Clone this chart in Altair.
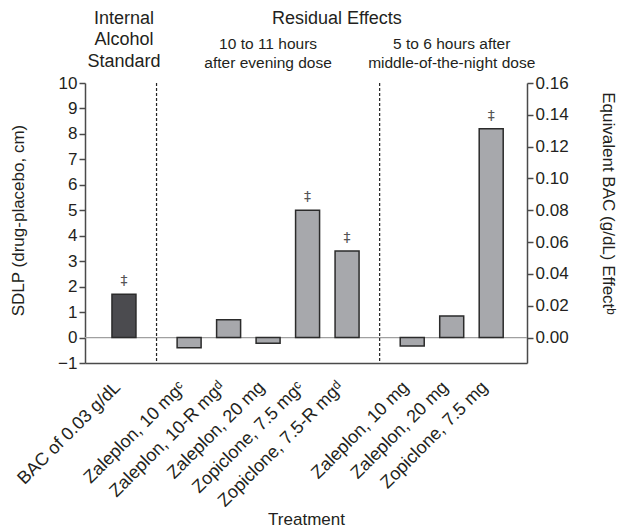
import json
import altair as alt
import pandas as pd

# ---------------- data ----------------
treatments = [
    "BAC of 0.03 g/dL",
    "Zaleplon, 10 mgᶜ",
    "Zaleplon, 10-R mgᵈ",
    "Zaleplon, 20 mg",
    "Zopiclone, 7.5 mgᶜ",
    "Zopiclone, 7.5-R mgᵈ",
    "Zaleplon, 10 mg",
    "Zaleplon, 20 mg",
    "Zopiclone, 7.5 mg",
]
groups = [0, 1, 1, 1, 1, 1, 2, 2, 2]
sdlp = [1.7, -0.4, 0.7, -0.22, 5.0, 3.4, -0.33, 0.85, 8.2]
significant = [1, 0, 0, 0, 1, 1, 0, 0, 1]

left_ticks = list(range(-1, 11))
right_ticks = [0.00, 0.02, 0.04, 0.06, 0.08, 0.10, 0.12, 0.14, 0.16]

header_top = ["Internal", "Residual Effects"]
standard_lines = ["Alcohol", "Standard"]
group_line1 = ["10 to 11 hours", "5 to 6 hours after"]
group_line2 = ["after evening dose", "middle-of-the-night dose"]

# ---------------- layout helpers ----------------
GAP = 0.65  # extra slot between groups
pos = [int(round(100 * (i + GAP * g))) for i, g in enumerate(groups)]

df = pd.DataFrame({"treatment": treatments, "group": groups, "sdlp": sdlp,
                   "sig": significant, "pos": pos})

grp_center = df.groupby("group")["pos"].mean()
res_center = df[df.group > 0]["pos"].mean()
dividers = [(df[df.group == g]["pos"].max() + df[df.group == g + 1]["pos"].min()) / 2
            for g in range(0, 2)]

W, H = 442, 280
FONT = "Liberation Sans"
TXT = "#231f20"
AX = "#4a4a4a"

xscale = alt.Scale(domain=[-86, 1008], nice=False, zero=False)
yscale = alt.Scale(domain=[min(left_ticks), max(left_ticks)], nice=False, zero=False)

label_expr = (f"{json.dumps(treatments, ensure_ascii=False)}"
              f"[indexof({json.dumps(pos)}, datum.value)]")

xaxis = alt.Axis(values=pos, labelExpr=label_expr, labelAngle=-45, labelAlign="right",
                 labelBaseline="top", labelPadding=15, labelOffset=-13,
                 ticks=False, grid=False,
                 labelOverlap=False, labelFlush=False,
                 labelFontSize=18, labelColor=TXT, labelFont=FONT,
                 domainColor=AX, domainWidth=1.5,
                 title="Treatment", titleFontSize=17, titleFontWeight="normal",
                 titleColor=TXT, titleFont=FONT, titleX=W / 2, titleY=156,
                 titleBaseline="middle", titleAlign="center")

yaxis = alt.Axis(values=left_ticks, tickSize=6, tickColor=AX, tickWidth=1.5,
                 domainColor=AX, domainWidth=1.5, grid=False, labelOverlap=False,
                 labelFlush=False, tickCount=12,
                 labelFontSize=17, labelColor=TXT, labelFont=FONT, labelPadding=2,
                 title="SDLP (drug-placebo, cm)", titleFontSize=17,
                 titleFontWeight="normal", titleColor=TXT, titleFont=FONT,
                 titleX=-67, titleY=137, titleAngle=-90, titleAlign="center",
                 titleBaseline="middle")

base = alt.Chart(df)

zero_rule = alt.Chart(pd.DataFrame({"v": [0]})).mark_rule(
    color="#a0a0a0", strokeWidth=1.2).encode(
    y=alt.Y("v:Q", scale=yscale, axis=yaxis),
    x=alt.value(0), x2=alt.value(W))

div_df = pd.DataFrame({"d": dividers, "top": max(left_ticks), "bot": min(left_ticks)})
div_rule = alt.Chart(div_df).mark_rule(
    color="#222222", strokeWidth=1.2, strokeDash=[3, 2]).encode(
    x=alt.X("d:Q", scale=xscale, axis=xaxis),
    y=alt.Y("top:Q", scale=yscale, axis=yaxis), y2="bot:Q")

bars = base.transform_calculate(zero="0").mark_bar(
    width=24, orient="vertical", stroke="#2b2b2b", strokeWidth=1.5).encode(
    x=alt.X("pos:Q", scale=xscale, axis=xaxis),
    y=alt.Y("sdlp:Q", scale=yscale, axis=yaxis),
    y2="zero:Q",
    fill=alt.condition(alt.datum.group == 0, alt.value("#4b4b4f"), alt.value("#a7a8ac")),
)

daggers = base.transform_filter(alt.datum.sig == 1).mark_text(
    text="‡", fontSize=14, color="#555555", dy=-13, font="DejaVu Sans").encode(
    x=alt.X("pos:Q", scale=xscale, axis=xaxis), y=alt.Y("sdlp:Q", scale=yscale, axis=yaxis))

hdr1 = pd.DataFrame({"t": header_top, "x": [grp_center[0], res_center]})
hdr_std = pd.DataFrame({"t": standard_lines, "x": [grp_center[0]] * 2,
                        "row": [1, 2]})
g1 = pd.DataFrame({"t": group_line1, "x": [grp_center[1], grp_center[2]]})
g2 = pd.DataFrame({"t": group_line2, "x": [grp_center[1], grp_center[2]]})

def header(d, y, size):
    return alt.Chart(d).mark_text(fontSize=size, color=TXT, font=FONT,
                                  baseline="middle", align="center").encode(
        x=alt.X("x:Q", scale=xscale, axis=xaxis), y=alt.value(y), text="t:N")

t_top = header(hdr1, -64, 18)
t_alc = header(hdr_std.iloc[[0]], -43, 18)
t_std = header(hdr_std.iloc[[1]], -21, 18)
t_g1 = header(g1, -39, 15.5)
t_g2 = header(g2, -20, 15.5)

left = alt.layer(zero_rule, div_rule, bars, daggers, t_top, t_alc, t_std, t_g1, t_g2)

right = alt.Chart(pd.DataFrame({"bac": right_ticks})).mark_point(opacity=0).encode(
    y=alt.Y("bac:Q", scale=alt.Scale(domain=[-0.016, 0.16], nice=False, zero=False),
            axis=alt.Axis(orient="right", values=right_ticks, format=".2f",
                          tickSize=6, tickColor=AX, tickWidth=1.5,
                          domainColor=AX, domainWidth=1.5, grid=False,
                          labelOverlap=False, labelFlush=False,
                          labelFontSize=17, labelColor=TXT, labelFont=FONT,
                          labelPadding=2,
                          title="Equivalent BAC (g/dL) Effectᵇ", titleFontSize=17,
                          titleFontWeight="normal", titleColor=TXT, titleFont=FONT,
                          titleX=80, titleY=120, titleAngle=90, titleAlign="center",
                          titleBaseline="middle")),
)

chart = alt.layer(left, right).resolve_scale(y="independent").properties(
    width=W, height=H,
    autosize=alt.AutoSizeParams(type="none"),
    padding={"left": 77, "top": 75, "right": 90, "bottom": 168},
    background="white",
).configure_view(stroke=None)

chart.save("out.html", embed_options={"renderer": "svg", "actions": False})
